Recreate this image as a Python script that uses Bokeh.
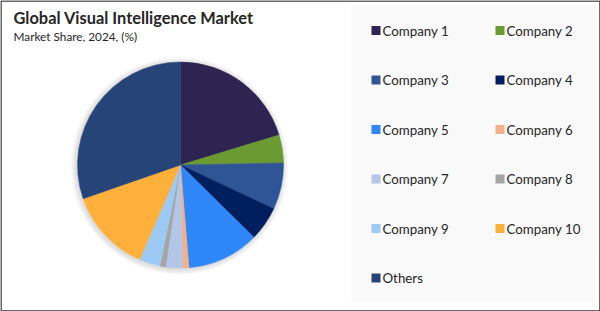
import numpy as np
from bokeh.plotting import figure
from bokeh.models import Range1d, ColumnDataSource
from bokeh.core.properties import value
from bokeh.embed import file_html
from bokeh.resources import INLINE

# ---- data ----
companies = ["Company 1", "Company 2", "Company 3", "Company 4", "Company 5",
             "Company 6", "Company 7", "Company 8", "Company 9", "Company 10", "Others"]
shares = [20.3, 4.4, 7.3, 5.4, 11.3, 1.0, 2.6, 0.9, 3.3, 13.2, 30.3]
colors = ["#2E2452", "#6B9A33", "#2F5597", "#001F5F", "#2F86F6", "#F4B08A",
          "#B4C6E7", "#A5A5A5", "#9DC9F5", "#FFB03B", "#264478"]
title = "Global Visual Intelligence Market"
subtitle = "Market Share, 2024, (%)"

W, H = 600, 311
FONT = "Lato"

p = figure(width=W, height=H, output_backend="svg", toolbar_location=None,
           x_range=Range1d(0, W), y_range=Range1d(0, H), min_border=0,
           background_fill_color="white", border_fill_color="white")
p.axis.visible = False
p.grid.visible = False
p.outline_line_color = None

def Y(y):
    return H - y

# outer frame
p.rect(x=[W / 2], y=[H / 2], width=[W - 1], height=[H - 1], fill_color=None,
       line_color="#3A3A3A", line_width=1.5)

# legend panel
p.quad(left=[351], right=[595], top=[Y(5)], bottom=[Y(302)],
       fill_color="#F9F9F9", line_color=None)

# title
p.text(x=[13], y=[Y(17)], text=[title], text_font=value(FONT), text_font_style="bold",
       text_font_size="16.4px", text_color="#262626", text_baseline="middle")
p.text(x=[13], y=[Y(35.5)], text=[subtitle], text_font=value(FONT),
       text_font_size="11.8px", text_color="#262626", text_baseline="middle")

# pie
cx, cy, r = 180, Y(164.5), 103
# soft shadow
for i, a in enumerate([0.025, 0.03, 0.035, 0.04]):
    p.circle(x=[cx - 1], y=[cy - 1], radius=r + 6 - i * 1.5, fill_color="#000000",
             fill_alpha=a, line_color=None)

vals = np.array(shares, dtype=float)
frac = vals / vals.sum()
cum = np.concatenate([[0], np.cumsum(frac)])
start = np.pi / 2 - cum[:-1] * 2 * np.pi
end = np.pi / 2 - cum[1:] * 2 * np.pi
src = ColumnDataSource(dict(start=start, end=end, color=colors, name=companies))
p.wedge(x=cx, y=cy, radius=r, start_angle="start", end_angle="end",
        direction="clock", fill_color="color", line_color="color", line_width=0.5,
        source=src)

# legend
col_sq = [371, 495]
row_y = [30, 79.5, 129, 178.5, 228, 277.5]
lx, ly, lc = [], [], []
for i, (name, c) in enumerate(zip(companies, colors)):
    col, row = i % 2, i // 2
    lx.append(col_sq[col]); ly.append(Y(row_y[row])); lc.append(c)
p.rect(x=[x + 4.5 for x in lx], y=ly, width=9, height=9, fill_color=lc, line_color=None)
p.text(x=[x + 11 for x in lx], y=ly, text=companies, text_font=value(FONT),
       text_font_size="13.3px", text_color="#262626", text_baseline="middle")

open("out.html", "w").write(file_html(p, INLINE))
